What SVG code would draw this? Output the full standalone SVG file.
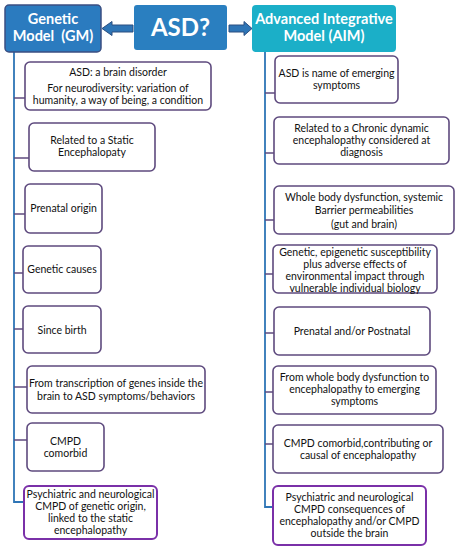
<svg xmlns="http://www.w3.org/2000/svg" width="458" height="550" viewBox="0 0 458 550">
<style>
.box{fill:#fff;stroke:#5e4a7e;stroke-width:1.6}
.boxl{fill:#fff;stroke:#7a30a8;stroke-width:2}
.t{font-family:Lato,"Open Sans",sans-serif;font-size:10.5px;fill:#111;text-anchor:middle}
.h{font-family:Lato,"Open Sans",sans-serif;font-weight:bold;fill:#fff;text-anchor:middle}
.v{stroke:#2e75b6;stroke-width:1.8;fill:none}
.tick{stroke:#5e4a7e;stroke-width:1.5}
.arr{fill:#2e75b6;stroke:#2b4e80;stroke-width:1}
</style>
<rect width="458" height="550" fill="#fff"/>
<g id="connectors">
<polygon class="arr" points="102,28.5 112,21.5 112,25 133,25 133,32 112,32 112,35.5"/>
<polygon class="arr" points="252,28.5 244,21.5 244,25 229,25 229,32 244,32 244,35.5"/>
<path class="v" d="M14,52 V502 H24"/>
<path class="v" d="M265,52 V507 H273"/>
<g class="tick">
<line x1="14" y1="98" x2="25" y2="98"/>
<line x1="14" y1="158" x2="29" y2="158"/>
<line x1="14" y1="214" x2="25" y2="214"/>
<line x1="14" y1="273" x2="23" y2="273"/>
<line x1="14" y1="329" x2="23" y2="329"/>
<line x1="14" y1="387" x2="27" y2="387"/>
<line x1="14" y1="440" x2="27" y2="440"/>
<line x1="265" y1="93" x2="275" y2="93"/>
<line x1="265" y1="153" x2="274" y2="153"/>
<line x1="265" y1="220" x2="274" y2="220"/>
<line x1="265" y1="274" x2="273" y2="274"/>
<line x1="265" y1="333" x2="274" y2="333"/>
<line x1="265" y1="392" x2="273" y2="392"/>
<line x1="265" y1="444" x2="273" y2="444"/>
</g>
</g>
<g id="gm">
<rect x="5" y="5" width="96" height="47" rx="4" fill="#2b7bbf" stroke="#3b4f82" stroke-width="1.5"/>
<text class="h" font-size="14.5" x="53" y="24">Genetic</text>
<text class="h" font-size="14.5" x="53" y="41" xml:space="preserve">Model  (GM)</text>
</g>
<g id="asd">
<rect x="134" y="5" width="93" height="45" rx="3" fill="#2a7fc0"/>
<text class="h" font-size="24" x="180.5" y="36">ASD?</text>
</g>
<g id="aim">
<rect x="252" y="5" width="144" height="47" rx="4" fill="#1bafc8"/>
<text class="h" font-size="14.5" x="324" y="24">Advanced Integrative</text>
<text class="h" font-size="14.5" x="324" y="41">Model (AIM)</text>
</g>
<g id="l1"><rect class="box" x="25" y="62" width="186" height="48" rx="5"/>
<text class="t" x="118" y="75.5">ASD: a brain disorder</text>
<text class="t" x="118" y="92">For neurodiversity: variation of</text>
<text class="t" x="118" y="104">humanity, a way of being, a condition</text></g>
<g id="l2"><rect class="box" x="29" y="123" width="126" height="48" rx="5"/>
<text class="t" x="92" y="144">Related to a Static</text>
<text class="t" x="92" y="156">Encephalopaty</text></g>
<g id="l3"><rect class="box" x="25" y="184" width="77" height="49" rx="5"/>
<text class="t" x="63.5" y="211.5">Prenatal origin</text></g>
<g id="l4"><rect class="box" x="23" y="246" width="78" height="47" rx="5"/>
<text class="t" x="62" y="272.5">Genetic causes</text></g>
<g id="l5"><rect class="box" x="23" y="306" width="78" height="47" rx="5"/>
<text class="t" x="62" y="333.5">Since birth</text></g>
<g id="l6"><rect class="box" x="27" y="366" width="178" height="47" rx="5"/>
<text class="t" x="116" y="387">From transcription of genes inside the</text>
<text class="t" x="116" y="399.5">brain to ASD symptoms/behaviors</text></g>
<g id="l7"><rect class="box" x="27" y="423" width="77" height="48" rx="5"/>
<text class="t" x="65.5" y="444.5">CMPD</text>
<text class="t" x="65.5" y="456.5">comorbid</text></g>
<g id="l8"><rect class="boxl" x="24" y="486" width="133" height="53" rx="5"/>
<text class="t" x="90.5" y="498">Psychiatric and neurological</text>
<text class="t" x="90.5" y="510">CMPD of genetic origin,</text>
<text class="t" x="90.5" y="522">linked to the static</text>
<text class="t" x="90.5" y="534">encephalopathy</text></g>
<g id="r1"><rect class="box" x="275" y="56" width="123" height="47" rx="5"/>
<text class="t" x="336.5" y="76.5">ASD is name of emerging</text>
<text class="t" x="336.5" y="88.5">symptoms</text></g>
<g id="r2"><rect class="box" x="274" y="117" width="175" height="47" rx="5"/>
<text class="t" x="361.5" y="131.5">Related to a Chronic dynamic</text>
<text class="t" x="361.5" y="143.5">encephalopathy considered at</text>
<text class="t" x="361.5" y="155.5">diagnosis</text></g>
<g id="r3"><rect class="box" x="274" y="186" width="180" height="48" rx="5"/>
<text class="t" x="364" y="200.5">Whole body dysfunction, systemic</text>
<text class="t" x="364" y="214">Barrier permeabilities</text>
<text class="t" x="364" y="227.5">(gut and brain)</text></g>
<g id="r4"><rect class="box" x="273" y="245" width="164" height="48" rx="5"/>
<text class="t" x="355" y="255.5">Genetic, epigenetic susceptibility</text>
<text class="t" x="355" y="267.5">plus adverse effects of</text>
<text class="t" x="355" y="279.5">environmental impact through</text>
<text class="t" x="355" y="291.5">vulnerable individual biology</text></g>
<g id="r5"><rect class="box" x="274" y="307" width="156" height="48" rx="5"/>
<text class="t" x="352" y="334.5">Prenatal and/or Postnatal</text></g>
<g id="r6"><rect class="box" x="273" y="366" width="163" height="48" rx="5"/>
<text class="t" x="354.5" y="380.5">From whole body dysfunction to</text>
<text class="t" x="354.5" y="392.5">encephalopathy to emerging</text>
<text class="t" x="354.5" y="405">symptoms</text></g>
<g id="r7"><rect class="box" x="273" y="425" width="170" height="48" rx="5"/>
<text class="t" x="358" y="446.5">CMPD comorbid,contributing or</text>
<text class="t" x="358" y="458.5">causal of encephalopathy</text></g>
<g id="r8"><rect class="boxl" x="273" y="486" width="153" height="59" rx="5"/>
<text class="t" x="349.5" y="500.5">Psychiatric and neurological</text>
<text class="t" x="349.5" y="512.5">CMPD consequences of</text>
<text class="t" x="349.5" y="524.5">encephalopathy and/or CMPD</text>
<text class="t" x="349.5" y="536.5">outside the brain</text></g>
</svg>
